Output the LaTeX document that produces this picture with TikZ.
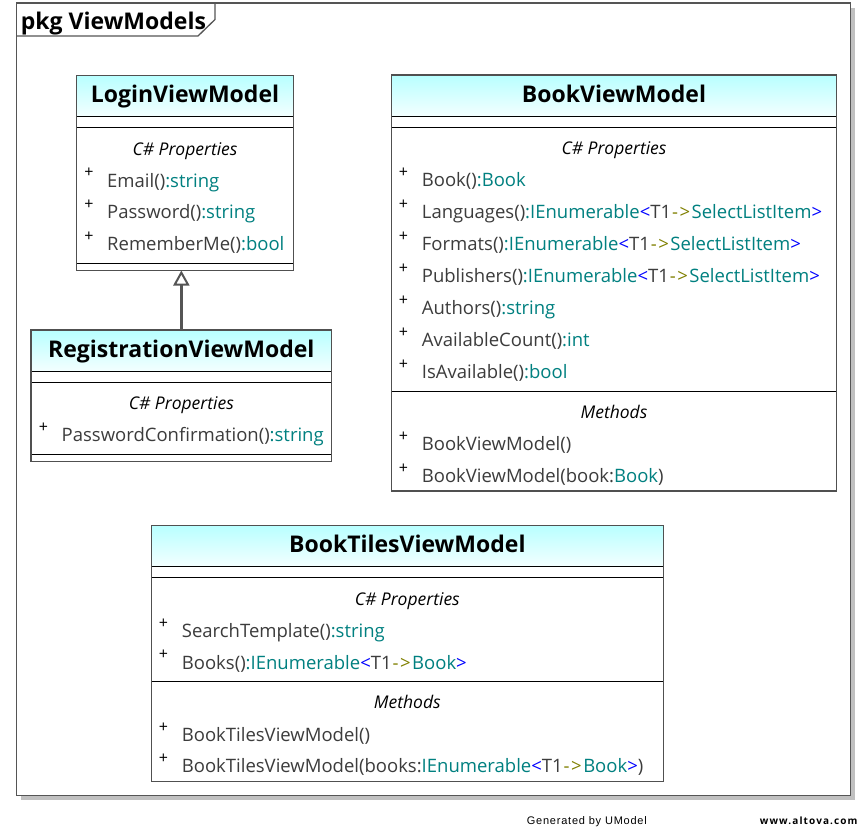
\documentclass[tikz,border=0pt]{standalone}
\usepackage{fontspec}
\setmainfont{Open Sans}
\newfontfamily\footfont{Liberation Sans}
\usetikzlibrary{positioning,arrows.meta}

\definecolor{framegray}{RGB}{85,85,85}
\definecolor{shadowgray}{RGB}{192,192,192}
\definecolor{boxgray}{RGB}{80,80,80}
\definecolor{headcyan}{RGB}{184,255,255}
\definecolor{headwhite}{RGB}{244,255,255}
\definecolor{namegray}{RGB}{60,60,60}
\definecolor{typeteal}{RGB}{0,128,128}
\definecolor{genblue}{RGB}{0,0,255}
\definecolor{arrowolive}{RGB}{128,128,0}

\newcommand\memfont{\fontsize{18.5}{20}\selectfont}
\newcommand\ttlfont{\fontsize{23}{26}\selectfont\bfseries}
\newcommand\plusmark{\llap{\raisebox{9.2pt}{\fontsize{16}{16}\selectfont\color{black}+}\hspace{13.8pt}}}
\newcommand\ty[1]{\textcolor{typeteal}{#1}}
\newcommand\gen[1]{\textcolor{genblue}{<}T1\kern1pt\textcolor{arrowolive}{-\kern1.5pt>}\kern1.5pt\ty{#1}\textcolor{genblue}{>}}

\tikzset{
  head/.style={minimum width=#1, minimum height=41.5pt, inner sep=0pt, outer sep=0pt,
    top color=headcyan, bottom color=headwhite, font=\ttlfont, text height=16pt, text depth=2.5pt},
  comp/.style={minimum width=#1, inner sep=0pt, outer sep=0pt},
  sep/.style={black, line width=1pt},
  border/.style={draw=boxgray, line width=1.2pt},
  section/.style={anchor=base, inner sep=0pt, font=\fontsize{17.5}{20}\selectfont\itshape},
  member/.style={anchor=base west, inner sep=0pt, font=\memfont, text=namegray, execute at begin node=\plusmark},
  generalize/.style={draw=framegray, line width=2.8pt, -{Triangle[open, length=15pt, width=16pt, line width=2pt]}},
  footer/.style={inner sep=0pt, font=\footfont\fontsize{11}{12}\selectfont\addfontfeatures{LetterSpace=7}}
}

\begin{document}
\begin{tikzpicture}[x=1pt, y=-1pt]
\useasboundingbox (0,0) rectangle (867,836);
% package frame
\fill[shadowgray] (21.2,7.5) rectangle (855.2,800.2);
\draw[framegray, line width=1.3pt, fill=white] (16.7,3) rectangle (850.7,795.7);
\draw[framegray, line width=1.3pt] (16.7,36) -- (198,36) -- (215,19.5) -- (215,3);
\node[anchor=base west, inner sep=0pt, font=\ttlfont] (pkg) at (20.7,29.3) {pkg ViewModels};

% LoginViewModel
\node[head=216.6pt] (login) at (185,96.05) {LoginViewModel};
\node[comp=216.6pt, minimum height=11pt, below=0pt of login] (loginattr) {};
\node[comp=216.6pt, minimum height=136pt, below=0pt of loginattr] (loginprops) {};
\node[comp=216.6pt, minimum height=6.7pt, below=0pt of loginprops] (loginops) {};
\node[section] (loginsec) at ([yshift=-27.3pt]loginprops.north) {C\# Properties};
\node[member] (l1) at ([xshift=30.3pt,yshift=-59.3pt]loginprops.north west) {Email()\ty{:string}};
\node[member] (l2) at ([yshift=-31.7pt]l1.base west) {Password()\ty{:string}};
\node[member] (l3) at ([yshift=-31.7pt]l2.base west) {RememberMe()\ty{:bool}};
\draw[sep] (login.south west) -- (login.south east) (loginattr.south west) -- (loginattr.south east)
  (loginprops.south west) -- (loginprops.south east);
\draw[border] (login.north west) rectangle (loginops.south east);

% RegistrationViewModel
\node[head=300.7pt] (reg) at (181.35,350.75) {RegistrationViewModel};
\node[comp=300.7pt, minimum height=11pt, below=0pt of reg] (regattr) {};
\node[comp=300.7pt, minimum height=72pt, below=0pt of regattr] (regprops) {};
\node[comp=300.7pt, minimum height=7pt, below=0pt of regprops] (regops) {};
\node[section] (regsec) at ([yshift=-26.7pt]regprops.north) {C\# Properties};
\node[member] (r1) at ([xshift=30.5pt,yshift=-59.4pt]regprops.north west) {PasswordConfirmation()\ty{:string}};
\draw[sep] (reg.south west) -- (reg.south east) (regattr.south west) -- (regattr.south east)
  (regprops.south west) -- (regprops.south east);
\draw[border] (reg.north west) rectangle (regops.south east);

\draw[generalize] (reg.north) -- (reg.north |- loginops.south);

% BookViewModel
\node[head=444.6pt] (book) at (614,95.75) {BookViewModel};
\node[comp=444.6pt, minimum height=11pt, below=0pt of book] (bookattr) {};
\node[comp=444.6pt, minimum height=264pt, below=0pt of bookattr] (bookprops) {};
\node[comp=444.6pt, minimum height=99.5pt, below=0pt of bookprops] (bookmeth) {};
\node[section] (booksec) at ([yshift=-27pt]bookprops.north) {C\# Properties};
\node[member] (b1) at ([xshift=30pt,yshift=-59.3pt]bookprops.north west) {Book()\ty{:Book}};
\node[member] (b2) at ([yshift=-32pt]b1.base west) {Languages()\ty{:IEnumerable}\gen{SelectListItem}};
\node[member] (b3) at ([yshift=-32pt]b2.base west) {Formats()\ty{:IEnumerable}\gen{SelectListItem}};
\node[member] (b4) at ([yshift=-32pt]b3.base west) {Publishers()\ty{:IEnumerable}\gen{SelectListItem}};
\node[member] (b5) at ([yshift=-32pt]b4.base west) {Authors()\ty{:string}};
\node[member] (b6) at ([yshift=-32pt]b5.base west) {AvailableCount()\ty{:int}};
\node[member] (b7) at ([yshift=-32pt]b6.base west) {IsAvailable()\ty{:bool}};
\node[section] (bookmsec) at ([yshift=-27pt]bookmeth.north) {Methods};
\node[member] (b8) at ([xshift=30pt,yshift=-59pt]bookmeth.north west) {BookViewModel()};
\node[member] (b9) at ([yshift=-32pt]b8.base west) {BookViewModel(book:\ty{Book})};
\draw[sep] (book.south west) -- (book.south east) (bookattr.south west) -- (bookattr.south east)
  (bookprops.south west) -- (bookprops.south east);
\draw[border] (book.north west) rectangle (bookmeth.south east);

% BookTilesViewModel
\node[head=512pt] (tiles) at (407.3,546.05) {BookTilesViewModel};
\node[comp=512pt, minimum height=10.6pt, below=0pt of tiles] (tilesattr) {};
\node[comp=512pt, minimum height=103.7pt, below=0pt of tilesattr] (tilesprops) {};
\node[comp=512pt, minimum height=100pt, below=0pt of tilesprops] (tilesmeth) {};
\node[section] (tilessec) at ([yshift=-27.7pt]tilesprops.north) {C\# Properties};
\node[member] (t1) at ([xshift=30.4pt,yshift=-60pt]tilesprops.north west) {SearchTemplate()\ty{:string}};
\node[member] (t2) at ([yshift=-31.7pt]t1.base west) {Books()\ty{:IEnumerable}\gen{Book}};
\node[section] (tilesmsec) at ([yshift=-27.3pt]tilesmeth.north) {Methods};
\node[member] (t3) at ([xshift=30.4pt,yshift=-60.7pt]tilesmeth.north west) {BookTilesViewModel()};
\node[member] (t4) at ([yshift=-31pt]t3.base west) {BookTilesViewModel(books:\ty{IEnumerable}\gen{Book})};
\draw[sep] (tiles.south west) -- (tiles.south east) (tilesattr.south west) -- (tilesattr.south east)
  (tilesprops.south west) -- (tilesprops.south east);
\draw[border] (tiles.north west) rectangle (tilesmeth.south east);

% footer
\node[footer, anchor=base west] (umodel) at (526.7,824.5) {Generated by UModel};
\node[footer, anchor=base east, font=\bfseries\addfontfeatures{LetterSpace=11}] (altova) at (857.7,824.5) {www.altova.com};
\end{tikzpicture}
\end{document}
